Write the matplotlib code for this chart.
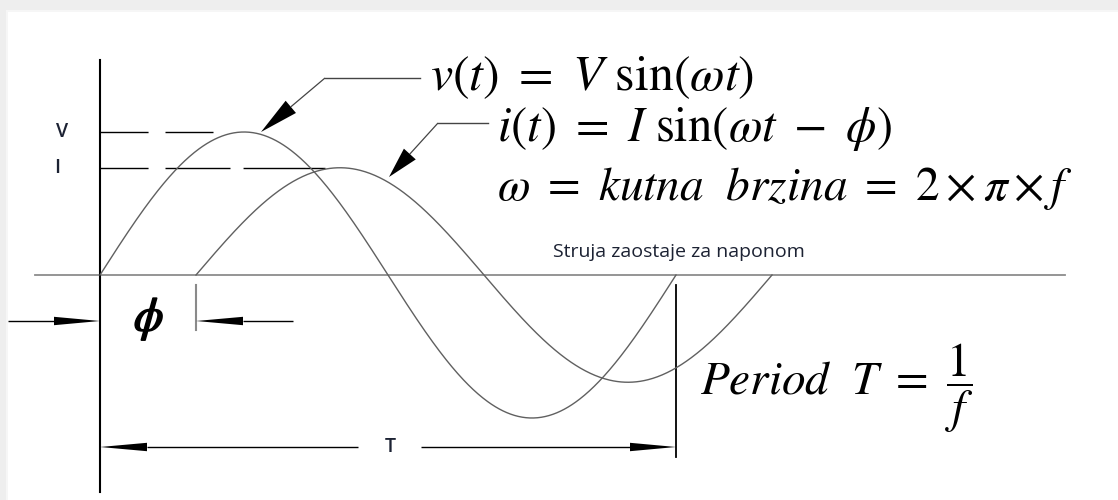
import numpy as np
import matplotlib
matplotlib.use("Agg")
import matplotlib.pyplot as plt
import matplotlib.patheffects as pe
from matplotlib.patches import Rectangle

plt.rcParams['mathtext.fontset'] = 'stix'
plt.rcParams['font.family'] = ['Open Sans', 'DejaVu Sans']

# values
period_ms = 20.0          # T  (f = 50 Hz)
phase_deg = 60.0          # current lags voltage by phi
V_amp = 1.0               # voltage peak
I_amp = 0.75              # current peak
amp_labels = ["V", "I"]
amp_values = [V_amp, I_amp]

lag_ms = period_ms * phase_deg / 360.0
t_v = np.linspace(0, period_ms, 600)
t_i = np.linspace(lag_ms, lag_ms + period_ms, 600)
v = V_amp * np.sin(2 * np.pi * t_v / period_ms)
i = I_amp * np.sin(2 * np.pi * (t_i - lag_ms) / period_ms)

# layout helper: picture pixel -> data units
X0, Y0 = 100, 275
PX_MS, PX_UNIT = 28.8, 143.0


def P(xp, yp):
    return (xp - X0) / PX_MS, (Y0 - yp) / PX_UNIT


def px_x(xp):
    return P(xp, 0)[0]


def px_y(yp):
    return P(0, yp)[1]


def to_px(x, y):
    return X0 + x * PX_MS, Y0 - y * PX_UNIT


fig = plt.figure(figsize=(11.18, 5.0), dpi=100)
fig.patch.set_facecolor('#eeeeee')
ax = fig.add_axes([0, 0, 1, 1])
ax.axis('off')
ax.set_xlim(px_x(0), px_x(1118))
ax.set_ylim(px_y(500), px_y(0))

# frame shadow + white sheet
ax.add_patch(Rectangle((6 / 1118, 0), 1, 490 / 500, transform=fig.transFigure,
                       facecolor='#f6f6f6', edgecolor='none', zorder=0))
ax.add_patch(Rectangle((8 / 1118, 0), 1, 488 / 500, transform=fig.transFigure,
                       facecolor='white', edgecolor='none', zorder=0))

# axes lines
ax.plot([0, 0], [px_y(492), px_y(60)], color='black', lw=1.5, zorder=3)
ax.plot([px_x(35), px_x(1065)], [0, 0], color='#8c8c8c', lw=1.3, zorder=2)

# waves
ax.plot(t_v, v, color='#606060', lw=1.0, zorder=3)
ax.plot(t_i, i, color='#606060', lw=1.0, zorder=3)

# dashed peak markers
ax.plot([0, px_x(213)], [V_amp, V_amp], color='black', lw=1.0,
        dashes=(34.6, 12.2), zorder=2)
ax.plot([0, px_x(325)], [I_amp, I_amp], color='black', lw=1.0,
        dashes=(34.6, 12.2, 46.8, 9.4, 59.0, 10.0), zorder=2)
for lab, val, xp in zip(amp_labels, amp_values, [62, 57]):
    ax.text(px_x(xp), val, lab, ha='center', va='center', fontsize=14,
            fontweight='semibold', color='#1c2233')

# period marker line and phase tick
ax.plot([period_ms, period_ms], [px_y(285), px_y(457)], color='black', lw=1.3)
ax.plot([lag_ms, lag_ms], [px_y(285), px_y(330)], color='#8a8a8a', lw=1.5)


def arrow(p_from, p_to, hl, hw, lw=1.0, color='black'):
    # shaft + filled triangular head, head sizes in pixels
    x0, y0 = to_px(*p_from)
    x1, y1 = to_px(*p_to)
    d = np.hypot(x1 - x0, y1 - y0)
    ux, uy = (x1 - x0) / d, (y1 - y0) / d
    bx, by = x1 - ux * hl, y1 - uy * hl
    nx, ny = -uy, ux
    tri = [P(x1, y1), P(bx + nx * hw, by + ny * hw), P(bx - nx * hw, by - ny * hw)]
    ax.plot([p_from[0], P(bx, by)[0]], [p_from[1], P(bx, by)[1]], color=color,
            lw=lw, zorder=4, solid_capstyle='butt')
    ax.fill([q[0] for q in tri], [q[1] for q in tri], color='black', lw=0,
            zorder=5)


# phi arrows
y_phi = px_y(321)
arrow((px_x(8), y_phi), (0, y_phi), 46, 4.2)
arrow((px_x(293), y_phi), (lag_ms, y_phi), 47, 4.2)
ax.text(px_x(149), px_y(319), r'$\phi$', ha='center', va='center',
        fontsize=34, color='black',
        path_effects=[pe.withStroke(linewidth=1.2, foreground='black')])

# period T arrows
y_T = px_y(447)
arrow((px_x(358), y_T), (0, y_T), 47, 4.2)
arrow((px_x(421), y_T), (period_ms, y_T), 46, 4.2)
ax.text(px_x(390), y_T, 'T', ha='center', va='center', fontsize=14,
        fontweight='semibold', color='#1c2233')

# leader for v(t)
ax.plot([px_x(325), px_x(420)], [px_y(78), px_y(78)], color='#444444', lw=1.0)
arrow(P(325, 78), P(261, 132), 39, 8.0, lw=0.9, color='#444444')
# leader for i(t)
ax.plot([px_x(438), px_x(488)], [px_y(123), px_y(123)], color='#444444', lw=1.0)
arrow(P(438, 123), P(389, 177), 31, 8.0, lw=0.9, color='#444444')

# formulas
ax.text(px_x(430), px_y(77), r'$v(t)\ =\ V\ \sin(\omega t)$', ha='left',
        va='center', fontsize=36)
ax.text(px_x(497), px_y(128), r'$i(t)\ =\ I\ \sin(\omega t\ -\ \phi)$',
        ha='left', va='center', fontsize=35)
ax.text(px_x(497), px_y(188),
        r'$\omega\ =\ kutna\ \ brzina\ =\ 2\times\pi\times f$',
        ha='left', va='center', fontsize=34)
ax.text(px_x(553), px_y(252), 'Struja zaostaje za naponom', ha='left',
        va='center', fontsize=14, color='#1c2233')
ax.text(px_x(700), px_y(388), r'$Period\ \ T\ =\ \dfrac{1}{f}$', ha='left',
        va='center', fontsize=34)

fig.savefig('out.png', dpi=100)
